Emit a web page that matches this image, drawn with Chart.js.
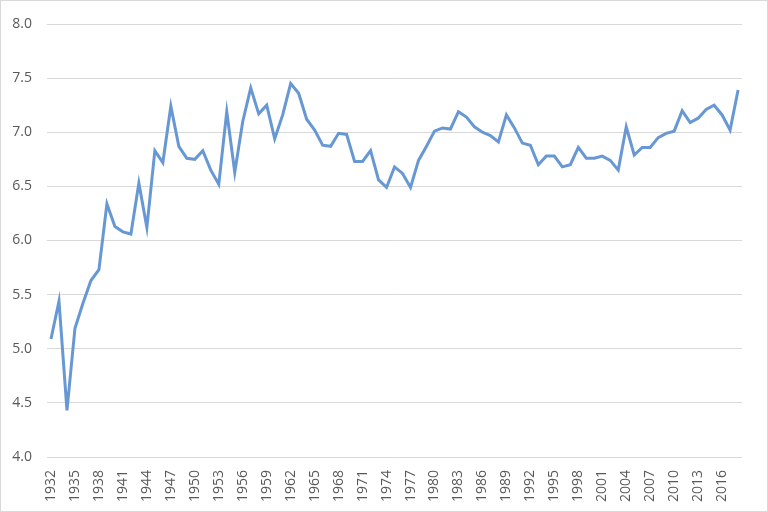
<!DOCTYPE html>
<html>
<head>
<meta charset="utf-8">
<script src="https://cdn.jsdelivr.net/npm/chart.js@4"></script>
<style>
  body { margin: 0; background: #fff; }
</style>
</head>
<body>
<canvas id="chart" width="768" height="512"></canvas>
<script>
// years 1932..2018, one value per year
const years = [
  1932, 1933, 1934, 1935, 1936, 1937, 1938, 1939, 1940, 1941,
  1942, 1943, 1944, 1945, 1946, 1947, 1948, 1949, 1950, 1951,
  1952, 1953, 1954, 1955, 1956, 1957, 1958, 1959, 1960, 1961,
  1962, 1963, 1964, 1965, 1966, 1967, 1968, 1969, 1970, 1971,
  1972, 1973, 1974, 1975, 1976, 1977, 1978, 1979, 1980, 1981,
  1982, 1983, 1984, 1985, 1986, 1987, 1988, 1989, 1990, 1991,
  1992, 1993, 1994, 1995, 1996, 1997, 1998, 1999, 2000, 2001,
  2002, 2003, 2004, 2005, 2006, 2007, 2008, 2009, 2010, 2011,
  2012, 2013, 2014, 2015, 2016, 2017, 2018
];

const values = [
  5.09, 5.44, 4.43, 5.19, 5.42, 5.63, 5.73, 6.34, 6.13, 6.08,
  6.06, 6.53, 6.12, 6.83, 6.72, 7.24, 6.87, 6.76, 6.75, 6.83,
  6.65, 6.52, 7.19, 6.63, 7.10, 7.41, 7.17, 7.25, 6.94, 7.16,
  7.45, 7.36, 7.12, 7.02, 6.88, 6.87, 6.99, 6.98, 6.73, 6.73,
  6.83, 6.56, 6.49, 6.68, 6.62, 6.49, 6.74, 6.87, 7.01, 7.04,
  7.03, 7.19, 7.14, 7.05, 7.00, 6.97, 6.91, 7.16, 7.04, 6.90,
  6.88, 6.70, 6.78, 6.78, 6.68, 6.70, 6.86, 6.76, 6.76, 6.78,
  6.74, 6.65, 7.05, 6.79, 6.86, 6.86, 6.95, 6.99, 7.01, 7.20,
  7.09, 7.13, 7.21, 7.25, 7.16, 7.02, 7.39
];

const yMin = 4.0;
const yMax = 8.0;
const yStep = 0.5;
const labelEvery = 3;

const frame = {
  id: 'frame',
  beforeDraw(chart) {
    const c = chart.ctx;
    c.save();
    c.fillStyle = '#ffffff';
    c.fillRect(0, 0, chart.width, chart.height);
    c.strokeStyle = '#d9d9d9';
    c.lineWidth = 1;
    c.strokeRect(0.5, 0.5, chart.width - 1, chart.height - 1);
    c.restore();
  }
};

const ctx = document.getElementById('chart').getContext('2d');
new Chart(ctx, {
  type: 'line',
  data: {
    labels: years,
    datasets: [{
      data: values,
      borderColor: '#6798d4',
      borderWidth: 3,
      pointRadius: 0,
      tension: 0,
      fill: false
    }]
  },
  options: {
    responsive: false,
    animation: false,
    layout: {
      padding: { left: 0, right: 20, top: 24, bottom: 0 }
    },
    plugins: {
      legend: { display: false },
      tooltip: { enabled: false }
    },
    scales: {
      x: {
        offset: true,
        grid: { display: false, drawTicks: false },
        border: { display: false },
        ticks: {
          autoSkip: false,
          minRotation: 90,
          maxRotation: 90,
          padding: 13,
          color: '#595959',
          font: { family: 'Open Sans', size: 14 },
          callback: function (val, i) {
            return i % labelEvery === 0 ? this.getLabelForValue(val) : '';
          }
        },
        afterFit(scale) { scale.height = 55; }
      },
      y: {
        min: yMin,
        max: yMax,
        grid: { color: '#d9d9d9', lineWidth: 1, drawTicks: false },
        border: { display: false },
        ticks: {
          stepSize: yStep,
          padding: 15,
          color: '#595959',
          font: { family: 'Open Sans', size: 14 },
          callback: (v) => v.toFixed(1)
        },
        afterFit(scale) { scale.width = 47; }
      }
    }
  },
  plugins: [frame]
});
</script>
</body>
</html>
